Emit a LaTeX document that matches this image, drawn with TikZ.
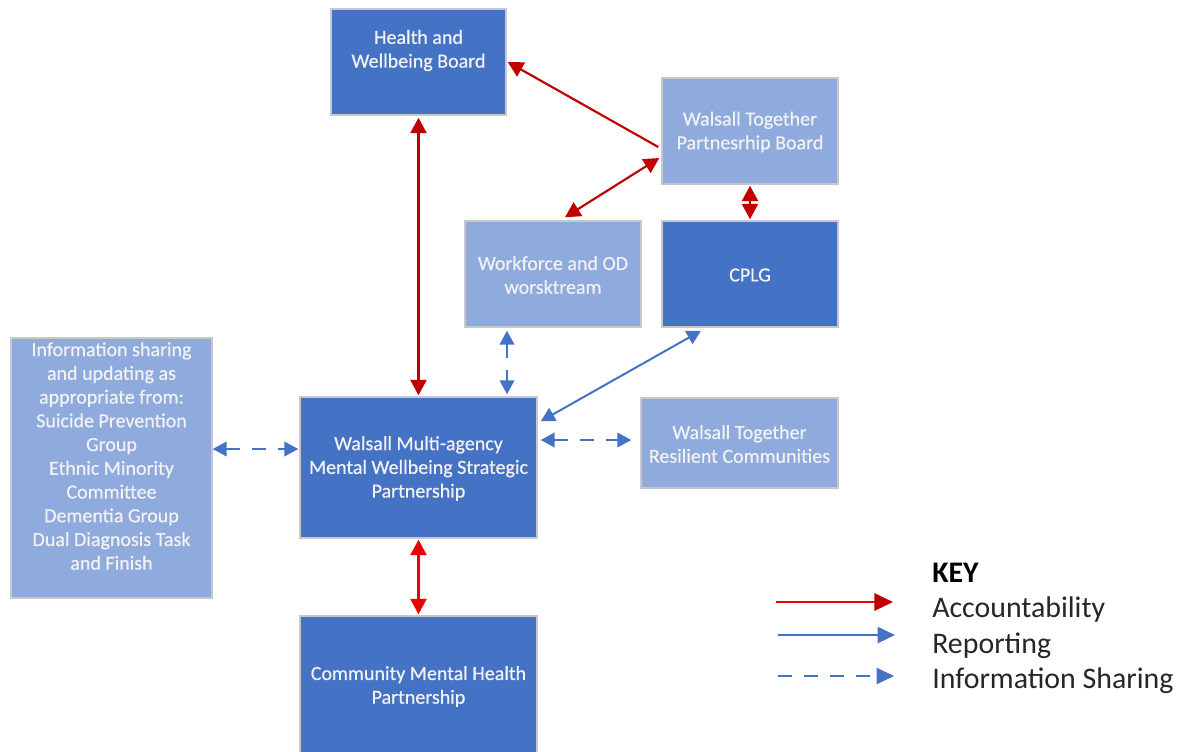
\documentclass[tikz,border=0pt]{standalone}
\usepackage{fontspec}
\setmainfont{Carlito}
\newfontface\boxface{Carlito}[FakeBold=0.5]
\usetikzlibrary{arrows.meta,calc}
\definecolor{dkblue}{HTML}{4472C4}
\definecolor{ltblue}{HTML}{8FAADC}
\definecolor{bordergrey}{HTML}{C8C8C8}
\definecolor{accred}{HTML}{C00000}
\definecolor{brightred}{HTML}{EE0000}
\definecolor{repblue}{HTML}{4472C4}
\definecolor{boxtext}{HTML}{F2F2F2}
\definecolor{keytext}{HTML}{262626}
\tikzset{
  box/.style={rectangle, draw=bordergrey, line width=1.1pt, inner sep=0pt},
  darkbox/.style={box, fill=dkblue},
  lightbox/.style={box, fill=ltblue},
  boxlabel/.style={text=boxtext, align=center, inner sep=0pt, font=\boxface\fontsize{15pt}{17.8pt}\selectfont},
  acc/.style={draw=accred, line width=1.6pt, arrows={-Triangle[length=11.5pt,width=12pt]}},
  accboth/.style={acc, arrows={Triangle[length=11.5pt,width=12pt]-Triangle[length=11.5pt,width=12pt]}},
  rep/.style={draw=repblue, line width=1.5pt, arrows={Triangle[length=10.5pt,width=11pt]-Triangle[length=10.5pt,width=11pt]}},
  info/.style={rep, dash pattern=on 10.5pt off 9pt},
  keylabel/.style={anchor=base west, inner sep=0pt, text=keytext, font=\fontsize{22.4pt}{26pt}\selectfont}
}
\begin{document}
\begin{tikzpicture}[x=0.75pt,y=-0.75pt]
\useasboundingbox (0,0) rectangle (1187,751);
% boxes
\node[darkbox, minimum width=175*0.75pt, minimum height=106*0.75pt] (hwb) at (418.5,62) {};
\node[boxlabel] (hwbtext) at (418.5,50.5) {Health and\\Wellbeing Board};
\node[lightbox, minimum width=176*0.75pt, minimum height=106*0.75pt] (wtpb) at (750,131) {};
\node[boxlabel] (wtpbtext) at (750,132) {Walsall Together\\Partnesrhip Board};
\node[lightbox, minimum width=176*0.75pt, minimum height=106*0.75pt] (wf) at (553,274) {};
\node[boxlabel] (wftext) at (553,275) {Workforce and OD\\worsktream};
\node[darkbox, minimum width=176*0.75pt, minimum height=106*0.75pt] (cplg) at (750,274) {};
\node[boxlabel] (cplgtext) at (750,275) {CPLG};
\node[lightbox, minimum width=201*0.75pt, minimum height=260*0.75pt] (info) at (111.5,468) {};
\node[boxlabel] (infotext) at (111.5,456) {Information sharing\\and updating as\\appropriate from:\\Suicide Prevention\\Group\\Ethnic Minority\\Committee\\Dementia Group\\Dual Diagnosis Task\\and Finish};
\node[darkbox, minimum width=237*0.75pt, minimum height=141*0.75pt] (mwsp) at (418.5,467.5) {};
\node[boxlabel] (mwsptext) at (418.5,468.5) {Walsall Multi-agency\\Mental Wellbeing Strategic\\Partnership};
\node[lightbox, minimum width=197*0.75pt, minimum height=90*0.75pt] (wtrc) at (739.5,443) {};
\node[boxlabel] (wtrctext) at (739.5,444) {Walsall Together\\Resilient Communities};
\node[darkbox, minimum width=237*0.75pt, minimum height=139*0.75pt] (cmhp) at (418.5,685.5) {};
\node[boxlabel] (cmhptext) at (418.5,686.5) {Community Mental Health\\Partnership};
% accountability
\draw[accboth] ($(hwb.south)+(0,2)$) -- ($(mwsp.north)+(0,-1)$);
\draw[acc] ($(wtpb.west)+(-3,16)$) -- ($(hwb.east)+(1,0)$);
\draw[accboth] ($(wtpb.west)+(-2,27)$) -- ($(wf.north)+(12,-3)$);
\draw[accboth] ($(wtpb.south)+(0,1)$) -- ($(cplg.north)+(0,-1)$);
\draw[accboth, draw=brightred] ($(mwsp.south)+(0,1)$) -- ($(cmhp.north)+(0,-1)$);
% reporting
\draw[rep] ($(cplg.south)+(-49,3)$) -- ($(mwsp.north east)+(3,25)$);
% information sharing
\draw[info] ($(wf.south)+(-46,3)$) -- ($(mwsp.north)+(88.5,-2)$);
\draw[info] ($(info.east)+(0,-19)$) -- ($(mwsp.west)+(-1,-18.5)$);
\draw[info] ($(mwsp.east)+(3,-27.5)$) -- ($(wtrc.west)+(-9,-3)$);
% key
\coordinate (k1s) at (776,602);
\coordinate (k1e) at (893,602);
\coordinate (k2s) at (778,635);
\coordinate (k2e) at (895,635);
\coordinate (k3s) at (778,676);
\coordinate (k3e) at (894,676);
\draw[acc, draw=red, arrows={-Triangle[length=14pt,width=13pt,color=accred]}] (k1s) -- (k1e);
\draw[rep, arrows={-Triangle[length=13pt,width=12pt]}] (k2s) -- (k2e);
\draw[info, arrows={-Triangle[length=13pt,width=12pt]}] (k3s) -- (k3e);
\node[keylabel, text=black, font=\fontsize{22.4pt}{26pt}\selectfont\bfseries] (key) at (932,582) {KEY};
\node[keylabel] (kacc) at (932,617) {Accountability};
\node[keylabel] (krep) at (932,653) {Reporting};
\node[keylabel] (kinfo) at (932,688) {Information Sharing};
\end{tikzpicture}
\end{document}
